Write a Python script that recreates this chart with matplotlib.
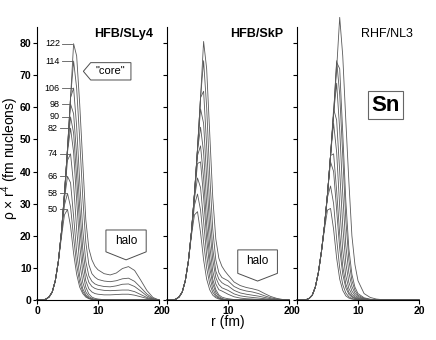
import numpy as np
import matplotlib.pyplot as plt
from matplotlib.patches import Polygon

plt.rcParams['font.family'] = ['Liberation Sans', 'DejaVu Sans']
plt.rcParams['mathtext.default'] = 'regular'

# radial grid (fm)
r = [0, 1, 1.5, 2, 2.5, 3, 3.5, 4, 4.5, 5, 5.5, 6, 6.5, 7, 7.5, 8, 8.5, 9, 9.5, 10,
     11, 12, 13, 14, 15, 16, 17, 18, 19, 20]

neutrons = [50, 58, 66, 74, 82, 90, 98, 106, 114, 122]

#- HFB/SLy4
sly4_50 = [0, 0, 0.3, 1.0, 2.5, 6, 12, 19.5, 26.5, 28.2, 23, 14.5, 8, 4, 2, 0.9, 0.4, 0.15, 0.05, 0,
           0, 0, 0, 0, 0, 0, 0, 0, 0, 0]
sly4_58 = [0, 0, 0.3, 1.0, 2.5, 6, 12, 20.5, 29.5, 33.2, 29, 19.5, 11, 5.5, 2.6, 1.2, 0.5, 0.2, 0.08, 0.02,
           0, 0, 0, 0, 0, 0, 0, 0, 0, 0]
sly4_66 = [0, 0, 0.3, 1.0, 2.5, 6, 12, 21, 31.5, 38.5, 36.5, 26, 15, 7.5, 3.5, 1.6, 0.7, 0.3, 0.1, 0.03,
           0, 0, 0, 0, 0, 0, 0, 0, 0, 0]
sly4_74 = [0, 0, 0.3, 1.0, 2.5, 6, 12, 21, 32.5, 43.5, 45.5, 36, 22, 11.5, 5.5, 2.5, 1.1, 0.5, 0.2, 0.1,
           0.03, 0, 0, 0, 0, 0, 0, 0, 0, 0]
sly4_82 = [0, 0, 0.3, 1.0, 2.5, 6, 12, 21, 33, 46, 53.5, 46, 31, 17, 8.5, 4, 1.9, 0.9, 0.5, 0.3,
           0.1, 0.05, 0, 0, 0, 0, 0, 0, 0, 0]
sly4_90 = [0, 0, 0.3, 1.0, 2.5, 6, 12, 21, 33, 47, 57, 52, 38, 23, 12, 6, 3.5, 2.5, 2.0, 1.8,
           1.6, 1.6, 1.7, 1.8, 1.8, 1.5, 1.0, 0.5, 0.15, 0]
sly4_98 = [0, 0, 0.3, 1.0, 2.5, 6, 12, 21, 33, 47, 61, 58, 45, 29, 16, 8.5, 5.5, 4.2, 3.6, 3.3,
           3.0, 2.9, 3.0, 3.1, 3.1, 2.6, 1.7, 0.8, 0.2, 0]
sly4_106 = [0, 0, 0.3, 1.0, 2.5, 6, 12, 21, 33, 47, 63, 66, 54, 37, 22, 12, 7.5, 5.8, 5.0, 4.6,
            4.2, 4.1, 4.4, 4.9, 5.0, 4.2, 2.8, 1.3, 0.3, 0]
sly4_114 = [0, 0, 0.3, 1.0, 2.5, 6, 12, 21, 33, 47, 63, 74.4, 66, 50, 32, 18, 11, 8.2, 7.1, 6.4,
            5.9, 5.7, 6.0, 6.6, 6.8, 5.8, 3.9, 1.9, 0.5, 0]
sly4_122 = [0, 0, 0.3, 1.0, 2.5, 6, 12, 21, 33, 47, 63, 79.8, 76, 61, 43, 25, 16, 12.5, 10.5, 9.4,
            8.2, 7.8, 8.4, 9.8, 10.4, 9.2, 6.2, 3.0, 0.8, 0]

#- HFB/SkP
skp_50 = [0, 0, 0.3, 1.0, 2.5, 6, 12, 20, 26.5, 27.5, 21, 12.5, 6.5, 3.2, 1.5, 0.7, 0.3, 0.12, 0.05, 0,
          0, 0, 0, 0, 0, 0, 0, 0, 0, 0]
skp_58 = [0, 0, 0.3, 1.0, 2.5, 6, 12, 20.5, 29.5, 33, 28, 18, 10, 5, 2.4, 1.1, 0.5, 0.2, 0.08, 0.03,
          0, 0, 0, 0, 0, 0, 0, 0, 0, 0]
skp_66 = [0, 0, 0.3, 1.0, 2.5, 6, 12, 21, 31.5, 38, 35, 24.5, 14, 7.2, 3.5, 1.6, 0.7, 0.3, 0.12, 0.05,
          0, 0, 0, 0, 0, 0, 0, 0, 0, 0]
skp_74 = [0, 0, 0.3, 1.0, 2.5, 6, 12, 21, 32.5, 42.5, 43, 32, 19, 10, 5, 2.4, 1.1, 0.5, 0.2, 0.1,
          0.03, 0, 0, 0, 0, 0, 0, 0, 0, 0]
skp_82 = [0, 0, 0.3, 1.0, 2.5, 6, 12, 21, 33, 45, 48, 38, 23.5, 13, 6.5, 3.2, 1.6, 0.9, 0.6, 0.4,
          0.15, 0.05, 0, 0, 0, 0, 0, 0, 0, 0]
skp_90 = [0, 0, 0.3, 1.0, 2.5, 6, 12, 21, 33, 46.5, 53.8, 46, 30, 17, 9, 5, 3.2, 2.8, 2.3, 1.8,
          1.0, 0.6, 0.4, 0.3, 0.2, 0.1, 0.05, 0, 0, 0]
skp_98 = [0, 0, 0.3, 1.0, 2.5, 6, 12, 21, 33, 47, 59.5, 55, 38, 22.5, 12.5, 7, 4.8, 3.8, 3.4, 3.0,
          1.9, 1.3, 1.0, 0.8, 0.6, 0.4, 0.2, 0.1, 0, 0]
skp_106 = [0, 0, 0.3, 1.0, 2.5, 6, 12, 21, 33, 47, 63, 65, 48, 29, 16, 9, 6.5, 5.4, 4.8, 4.4,
           3.0, 2.2, 1.8, 1.5, 1.2, 0.8, 0.4, 0.2, 0.05, 0]
skp_114 = [0, 0, 0.3, 1.0, 2.5, 6, 12, 21, 33, 47, 63, 74.5, 60, 39, 22, 12.5, 8.5, 7, 6.5, 6.0,
           4.2, 3.3, 2.8, 2.5, 2.0, 1.3, 0.7, 0.3, 0.1, 0]
skp_122 = [0, 0, 0.3, 1.0, 2.5, 6, 12, 21, 33, 47, 63, 80.5, 72, 52, 32, 19, 13, 10.5, 9, 7.8,
           5.6, 4.5, 3.9, 3.5, 3.0, 2.0, 1.1, 0.5, 0.15, 0]

#- RHF/NL3
nl3_50 = [0, 0, 0.1, 0.5, 1.5, 4, 8.5, 15, 22, 28, 28.5, 22, 13, 6.5, 3, 1.3, 0.6, 0.3, 0.15, 0.08,
          0.02, 0, 0, 0, 0, 0, 0, 0, 0, 0]
nl3_58 = [0, 0, 0.1, 0.5, 1.5, 4, 8.5, 15, 23, 32, 35.5, 30, 19, 10, 4.8, 2.2, 1, 0.45, 0.2, 0.1,
          0.03, 0, 0, 0, 0, 0, 0, 0, 0, 0]
nl3_66 = [0, 0, 0.1, 0.5, 1.5, 4, 8.5, 15, 23, 33, 43, 40, 28, 16, 8, 3.8, 1.8, 0.9, 0.45, 0.25,
          0.07, 0.02, 0, 0, 0, 0, 0, 0, 0, 0]
nl3_74 = [0, 0, 0.1, 0.5, 1.5, 4, 8.5, 15, 23, 33, 45, 45.5, 34, 20.5, 10.5, 5, 2.4, 1.2, 0.6, 0.3,
          0.1, 0.03, 0, 0, 0, 0, 0, 0, 0, 0]
nl3_82 = [0, 0, 0.1, 0.5, 1.5, 4, 8.5, 15, 23, 33, 45, 55, 46, 29, 15.5, 7.5, 3.6, 1.8, 0.9, 0.5,
          0.15, 0.05, 0, 0, 0, 0, 0, 0, 0, 0]
nl3_90 = [0, 0, 0.1, 0.5, 1.5, 4, 8.5, 15, 23, 33, 45, 59.5, 56, 40, 23, 11.5, 5.5, 2.8, 1.4, 0.75,
          0.25, 0.08, 0.03, 0, 0, 0, 0, 0, 0, 0]
nl3_98 = [0, 0, 0.1, 0.5, 1.5, 4, 8.5, 15, 23, 33, 45, 58, 67.5, 53, 33, 17, 8.5, 4.2, 2.1, 1.1,
          0.35, 0.12, 0.04, 0, 0, 0, 0, 0, 0, 0]
nl3_106 = [0, 0, 0.1, 0.5, 1.5, 4, 8.5, 15, 23, 33, 45, 58, 74.5, 64, 45, 25, 12.5, 6, 3, 1.5,
           0.5, 0.17, 0.06, 0.02, 0, 0, 0, 0, 0, 0]
nl3_114 = [0, 0, 0.1, 0.5, 1.5, 4, 8.5, 15, 23, 33, 45, 58, 74, 72, 52, 31, 16, 8, 4, 2,
           0.7, 0.25, 0.08, 0.03, 0, 0, 0, 0, 0, 0]
nl3_122 = [0, 0, 0.1, 0.5, 1.5, 4, 8.5, 15, 23, 33, 45, 58, 72, 88, 76, 56, 37, 20, 11, 6,
           2, 0.8, 0.3, 0.1, 0.04, 0, 0, 0, 0, 0]

sly4 = [sly4_50, sly4_58, sly4_66, sly4_74, sly4_82, sly4_90, sly4_98, sly4_106, sly4_114, sly4_122]
skp = [skp_50, skp_58, skp_66, skp_74, skp_82, skp_90, skp_98, skp_106, skp_114, skp_122]
nl3 = [nl3_50, nl3_58, nl3_66, nl3_74, nl3_82, nl3_90, nl3_98, nl3_106, nl3_114, nl3_122]

titles = ['HFB/SLy4', 'HFB/SkP', 'RHF/NL3']

W, H = 436, 340
fig = plt.figure(figsize=(W/100, H/100), dpi=100)

lefts = [37, 167, 297]
axs = []
for i, (left, curves, title) in enumerate(zip(lefts, [sly4, skp, nl3], titles)):
    ax = fig.add_axes([left/W, 1 - 300/H, 122/W, 273/H])
    for c in curves:
        ax.plot(r, c, color='0.35', lw=0.6, clip_on=False)
    ax.set_xlim(0, 20)
    ax.set_ylim(0, 85)
    ax.set_xticks([0, 10, 20])
    ax.set_yticks(range(0, 81, 10))
    ax.spines['top'].set_visible(False)
    ax.spines['right'].set_visible(False)
    ax.tick_params(direction='out', length=3, width=0.8, pad=1, labelsize=7.5)
    for lab in ax.get_xticklabels() + ax.get_yticklabels():
        lab.set_fontweight('bold')
    if i > 0:
        ax.tick_params(labelleft=False)
    ax.text(19.0, 84.7, title, ha='right', va='top', fontsize=9,
            fontweight='normal' if i == 2 else 'bold')
    axs.append(ax)

ax1, ax2, ax3 = axs

# N labels with leader lines, panel 1
for n, c in zip(neutrons, sly4):
    k = int(np.argmax(c))
    rp, vp = r[k], c[k]
    xt = 3.75 if vp > 55 else 3.35
    ax1.text(xt, vp, str(n), ha='right', va='center', fontsize=6.5)
    ax1.plot([xt + 0.35, rp - 0.25], [vp, vp], color='0.35', lw=0.6)

# "core" pointer box
ax1.add_patch(Polygon([(7.6, 71.2), (8.8, 73.9), (15.4, 73.9), (15.4, 68.5), (8.8, 68.5)],
                      closed=True, fc='white', ec='0.3', lw=0.7, zorder=5))
ax1.text(12.1, 71.2, '"core"', ha='center', va='center', fontsize=8, zorder=6)

# halo boxes
ax1.add_patch(Polygon([(11.3, 21.8), (17.9, 21.8), (17.9, 15.0), (14.6, 12.5), (11.3, 15.0)],
                      closed=True, fc='white', ec='0.3', lw=0.7, zorder=5))
ax1.text(14.6, 18.3, 'halo', ha='center', va='center', fontsize=8.5, zorder=6)

ax2.add_patch(Polygon([(11.6, 15.6), (18.1, 15.6), (18.1, 8.3), (14.85, 5.9), (11.6, 8.3)],
                      closed=True, fc='white', ec='0.3', lw=0.7, zorder=5))
ax2.text(14.85, 12.0, 'halo', ha='center', va='center', fontsize=8.5, zorder=6)

ax3.text(14.5, 60.7, 'Sn', ha='center', va='center', fontsize=16, fontweight='bold',
         bbox=dict(boxstyle='square,pad=0.15', fc='white', ec='0.4', lw=0.8))

fig.text(10/W, 1 - 158/H, r'ρ × r$^4$ (fm nucleons)', rotation=90,
         ha='center', va='center', fontsize=10)
fig.text(228/W, 1 - 322/H, 'r (fm)', ha='center', va='center', fontsize=10)

plt.savefig('out.png', dpi=100)
